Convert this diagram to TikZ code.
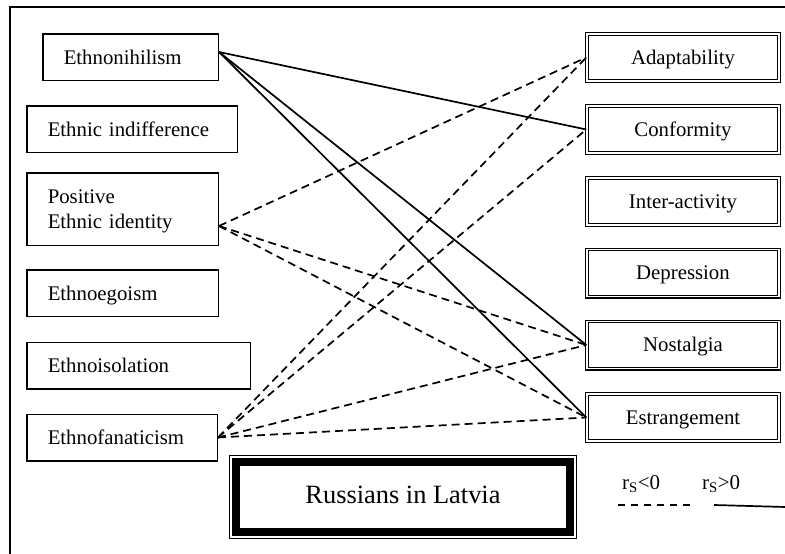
\documentclass[tikz,border=0pt]{standalone}
\usepackage{fontspec}
\setmainfont{Liberation Serif}
\tikzset{
  leftbox/.style={draw,line width=1.5pt,anchor=west,align=left,inner xsep=21pt,minimum height=46.5pt,font=\fontsize{20.8}{25}\selectfont},
  oneline/.style={text height=14pt,text depth=0pt},
  rightbox/.style={draw,double,double distance=1.5pt,line width=1.1pt,minimum width=192.3pt,minimum height=47.3pt,text height=13pt,text depth=0pt,font=\fontsize{20.8}{25}\selectfont},
  titlebox/.style={draw,line width=7.7pt,outer sep=0pt,minimum width=333.6pt,minimum height=69.6pt,text height=12pt,text depth=0pt,font=\fontsize{26.4}{30}\selectfont},
  legendtext/.style={anchor=base west,inner sep=0pt,font=\fontsize{21}{24}\selectfont},
  posline/.style={line width=1.7pt},
  negline/.style={line width=1.7pt,dash pattern=on 8pt off 5pt},
}
\begin{document}
\begin{tikzpicture}[x=1pt,y=-1pt]
\useasboundingbox (0,0) rectangle (785,554);
\draw[line width=2.5pt] (10,554) |- (785,7);
\node[leftbox,oneline,text width=133.5pt] (00) at (42,57) {Ethnonihilism};
\node[leftbox,oneline,text width=168.5pt] (01) at (26,129) {Ethnic indifference};
\node[leftbox,text width=149.5pt,minimum height=72.5pt,text height=14pt,text depth=26pt] (02) at (26,209) {Positive\\Ethnic identity};
\node[leftbox,oneline,text width=149.5pt] (03) at (26,293) {Ethnoegoism};
\node[leftbox,oneline,text width=181.5pt] (04) at (26,365.5) {Ethnoisolation};
\node[leftbox,oneline,text width=148.5pt] (05) at (26,437.5) {Ethnofanaticism};
\node[rightbox] (10) at (683,57.5) {Adaptability};
\node[rightbox] (11) at (683,129.5) {Conformity};
\node[rightbox] (12) at (683,201.5) {Inter-activity};
\node[rightbox] (13) at (683,273) {Depression};
\node[rightbox] (14) at (683,345) {Nostalgia};
\node[rightbox] (15) at (683,417.5) {Estrangement};
\node[titlebox] (t) at (403,497) {Russians in Latvia};
\draw[line width=1.4pt] ([xshift=-6.55pt,yshift=6.55pt]t.north west) rectangle ([xshift=6.55pt,yshift=-6.55pt]t.south east);
\draw[posline] ([yshift=5pt]00.east) -- (11.west);
\draw[posline] ([yshift=5pt]00.east) -- (14.west);
\draw[posline] ([yshift=5pt]00.east) -- (15.west);
\draw[negline] ([yshift=-17pt]02.east) -- (10.west);
\draw[negline] ([yshift=-17pt]02.east) -- (14.west);
\draw[negline] ([yshift=-17pt]02.east) -- (15.west);
\draw[negline] (05.east) -- (10.west);
\draw[negline] (05.east) -- (11.west);
\draw[negline] (05.east) -- (14.west);
\draw[negline] (05.east) -- (15.west);
\node[legendtext] (lneg) at (622,489) {r\textsubscript{S}<0};
\node[legendtext] (lpos) at (702,489) {r\textsubscript{S}>0};
\coordinate (nega) at (618,505);
\coordinate (negb) at (696,505);
\coordinate (posa) at (714,505);
\coordinate (posb) at (785,507);
\draw[line width=1.7pt,dash pattern=on 7pt off 6pt] (nega) -- (negb);
\draw[posline] (posa) -- (posb);
\end{tikzpicture}
\end{document}
